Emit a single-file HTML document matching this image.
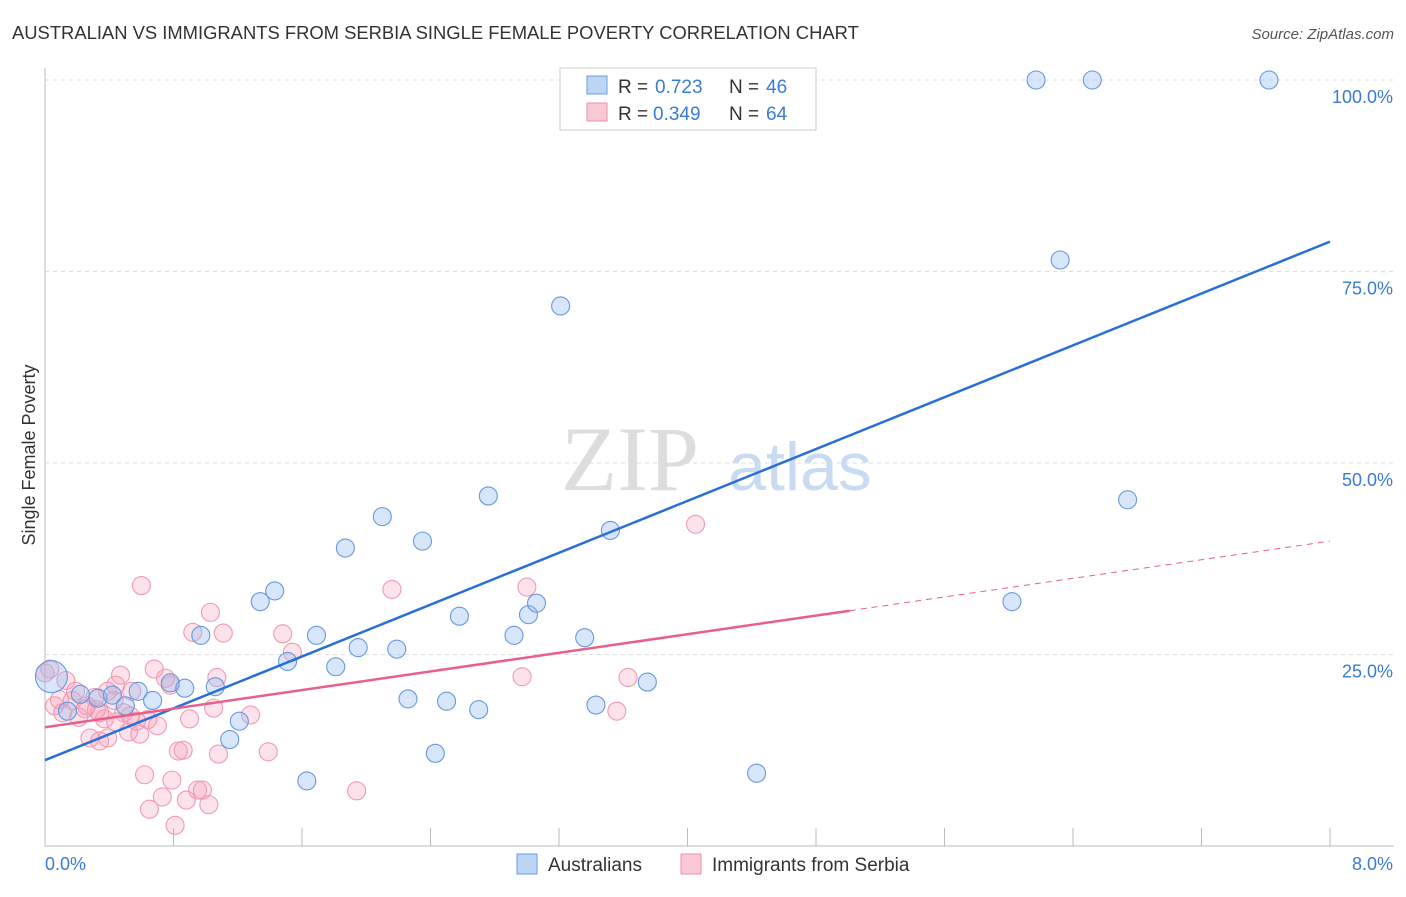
<!DOCTYPE html>
<html><head><meta charset="utf-8"><style>
body{margin:0;background:#fff;font-family:"Liberation Sans",sans-serif;}
</style></head><body>
<svg id="c" width="1406" height="892" xmlns="http://www.w3.org/2000/svg">
<text x="12" y="39" font-size="18.4" fill="#333">AUSTRALIAN VS IMMIGRANTS FROM SERBIA SINGLE FEMALE POVERTY CORRELATION CHART</text>
<text x="1394" y="39" font-size="15" fill="#555" font-style="italic" text-anchor="end">Source: ZipAtlas.com</text>
<text x="630" y="490" font-size="92" fill="#ddd" font-family="Liberation Serif,serif" text-anchor="middle">ZIP</text>
<text x="800" y="490" font-size="68" fill="#c8dbf2" text-anchor="middle">atlas</text>
<g id="grid"></g><g id="pts"></g><g id="lines"></g>
<text x="35" y="455" font-size="18" fill="#333" transform="rotate(-90 35 455)" text-anchor="middle">Single Female Poverty</text>
<text x="45" y="870" font-size="18" fill="#3a7bd5">0.0%</text>
<text x="1393" y="870" font-size="18" fill="#3a7bd5" text-anchor="end">8.0%</text>
<g>
<rect x="560" y="68" width="256" height="62" fill="#fff" stroke="#ccc"/>
<rect x="587" y="76" width="20" height="18" fill="#bcd5f3" stroke="#6a9de0"/>
<rect x="587" y="103" width="20" height="18" fill="#f9c9d6" stroke="#ec8fa9"/>
<text x="618" y="93" font-size="19" fill="#333">R =</text><text x="655" y="93" font-size="19" fill="#3a7bd5">0.723</text>
<text x="729" y="93" font-size="19" fill="#333">N =</text><text x="766" y="93" font-size="19" fill="#3a7bd5">46</text>
<text x="618" y="120" font-size="19" fill="#333">R =</text><text x="653" y="120" font-size="19" fill="#3a7bd5">0.349</text>
<text x="729" y="120" font-size="19" fill="#333">N =</text><text x="766" y="120" font-size="19" fill="#3a7bd5">64</text>
</g>
<g>
<rect x="517" y="854" width="20" height="20" fill="#bcd5f3" stroke="#6a9de0"/>
<text x="548" y="871" font-size="19" fill="#333">Australians</text>
<rect x="681" y="854" width="20" height="20" fill="#f9c9d6" stroke="#ec8fa9"/>
<text x="712" y="871" font-size="19" fill="#333">Immigrants from Serbia</text>
</g>
</svg>
<script>
const yTicks=[25,50,75,100];
const xTicks=[0,0.8,1.6,2.4,3.2,4.0,4.8,5.6,6.4,7.2,8.0];
const blueX=[0.04,0.22,0.33,0.42,0.58,0.67,0.50,0.14,0.78,0.87,0.97,1.06,1.15,1.21,1.34,1.43,1.51,1.63,1.69,1.81,1.87,1.95,2.10,2.19,2.26,2.35,2.43,2.50,2.58,2.70,2.76,2.92,3.01,3.06,3.21,3.36,3.43,3.52,3.75,4.43,6.02,6.17,6.32,6.52,6.74,7.62];
const blueY=[22.1,19.8,19.3,19.7,20.2,19.0,18.3,17.6,21.3,20.6,27.5,20.8,13.9,16.3,31.9,33.3,24.1,8.5,27.5,23.4,38.9,25.9,43.0,25.7,19.2,39.8,12.1,18.9,30.0,17.8,45.7,27.5,30.2,31.7,70.5,27.2,18.4,41.2,21.4,9.5,31.9,100,76.5,100,45.2,100];
const blueR=[16,9,9,9,9,9,9,9,9,9,9,9,9,9,9,9,9,9,9,9,9,9,9,9,9,9,9,9,9,9,9,9,9,9,9,9,9,9,9,9,9,9,9,9,9,9];
const pinkX=[0,0.03,0.06,0.11,0.13,0.17,0.21,0.26,0.28,0.32,0.34,0.37,0.39,0.43,0.44,0.47,0.49,0.52,0.54,0.57,0.60,0.62,0.64,0.65,0.68,0.70,0.73,0.75,0.79,0.81,0.83,0.86,0.88,0.90,0.92,0.95,0.98,1.02,1.03,1.05,1.07,1.08,1.11,1.28,1.39,1.48,1.54,1.94,2.16,2.97,3.00,3.56,3.63,4.05,0.39,0.09,0.25,0.59,0.78,0.31,0.53,0.19,0.34,0.44];
const pinkY=[22.6,23.1,18.3,17.4,21.6,19.0,16.8,18.3,14.1,17.8,13.7,16.6,14.1,19.0,21.0,22.3,17.4,14.9,20.2,16.3,34.0,9.3,16.5,4.8,23.1,15.7,6.4,21.9,8.6,2.7,12.4,12.5,6.0,16.6,27.9,7.3,7.3,5.4,30.5,18.0,22.0,12.0,27.8,17.1,12.3,27.7,25.3,7.2,33.5,22.1,33.8,17.6,22.0,42.0,20.2,19.1,17.9,14.6,21.0,19.4,17.0,20.2,17.4,16.2];
const X0=45,X1=1330,Y0=846,Y100=80;
const sx=v=>X0+(X1-X0)*v/8, sy=v=>Y0-(Y0-Y100)*v/100;
const NS='http://www.w3.org/2000/svg';
function mk(t,a,p){const e=document.createElementNS(NS,t);for(const k in a)e.setAttribute(k,a[k]);p.appendChild(e);return e;}
const g=document.getElementById('grid');
mk('line',{x1:45,y1:68,x2:45,y2:846,stroke:'#bbb'},g);
mk('line',{x1:45,y1:846,x2:1394,y2:846,stroke:'#bbb'},g);
yTicks.forEach(v=>{
 const l=mk('line',{x1:45,y1:sy(v),x2:1394,y2:sy(v),stroke:'#ddd','stroke-dasharray':'4,4'},g);
 
 
 const t=mk('text',{x:1393,y:sy(v)+23,'font-size':18,fill:'#3a7bd5','text-anchor':'end'},g);
 t.textContent=v.toFixed(1)+'%';
 
 
});
xTicks.forEach(v=>{
 const l=mk('line',{x1:sx(v),y1:828,x2:sx(v),y2:846,stroke:'#bbb'},g);
 
 
});
const p=document.getElementById('pts');
pinkX.forEach((x,i)=>{
 const c=mk('circle',{cx:sx(x),cy:sy(pinkY[i]),r:9,fill:'rgba(244,160,185,0.3)',stroke:'#ef9ab2','stroke-width':1.1},p);
 
 
});
blueX.forEach((x,i)=>{
 const c=mk('circle',{cx:sx(x),cy:sy(blueY[i]),r:blueR[i],fill:'rgba(150,190,238,0.38)',stroke:'#6698de','stroke-width':1.1},p);
 
 
});
const L=document.getElementById('lines');
const bl=mk('line',{x1:sx(0),y1:sy(11.2),x2:sx(8),y2:sy(78.9),stroke:'#2a6fd6','stroke-width':2.5},L);


const pa=15.5,pb=(39.8-15.5)/8;
const pl=mk('line',{x1:sx(0),y1:sy(pa),x2:sx(5.01),y2:sy(pa+pb*5.01),stroke:'#e8608a','stroke-width':2.5},L);


const pd=mk('line',{x1:sx(5.01),y1:sy(pa+pb*5.01),x2:sx(8),y2:sy(pa+pb*8),stroke:'#e8608a','stroke-width':1,'stroke-dasharray':'6,5'},L);


</script>
</body></html>
